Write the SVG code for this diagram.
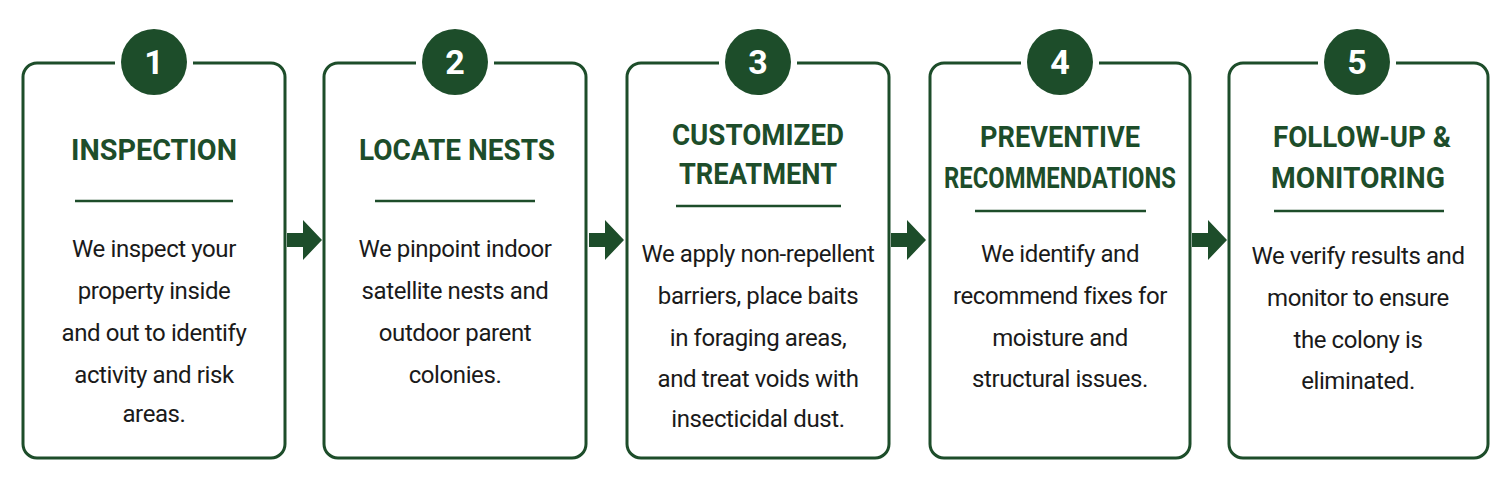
<svg xmlns="http://www.w3.org/2000/svg" width="1512" height="483" viewBox="0 0 1512 483">
<style>
.box{fill:#fff;stroke:#1d4d2a;stroke-width:3}
.num{fill:#1d4d2a}
.nt{font-family:Roboto,"Liberation Sans",sans-serif;font-weight:bold;font-size:34px;fill:#fff;text-anchor:middle}
.tt{font-family:Roboto,"Liberation Sans",sans-serif;font-weight:bold;font-size:29px;fill:#1d4d2a;text-anchor:middle}
.bd{font-family:Roboto,"Liberation Sans",sans-serif;font-size:24px;fill:#1a1a1a;text-anchor:middle;letter-spacing:-0.4px}
.ul{stroke:#1d4d2a;stroke-width:2.5}
.ar{fill:#1d4d2a}
</style>
<rect width="1512" height="483" fill="#fff"/>
<g id="connectors">
<path class="ar" d="M287,233h16v-13l19,20-19,20v-13h-16z"/>
<path class="ar" d="M589,233h16v-13l19,20-19,20v-13h-16z"/>
<path class="ar" d="M891,233h16v-13l19,20-19,20v-13h-16z"/>
<path class="ar" d="M1192,233h16v-13l19,20-19,20v-13h-16z"/>
</g>
<g id="n1">
<rect class="box" x="23" y="63" width="262" height="395" rx="14"/>
<rect x="115" y="55" width="78" height="16" fill="#fff"/>
<circle class="num" cx="154" cy="62" r="33"/><text class="nt" x="154" y="74">1</text>
<text class="tt" x="154" y="160" textLength="166" lengthAdjust="spacingAndGlyphs">INSPECTION</text>
<line class="ul" x1="75" y1="201" x2="233" y2="201"/>
<text class="bd"><tspan x="154" y="257">We inspect your</tspan><tspan x="154" y="299">property inside</tspan><tspan x="154" y="341">and out to identify</tspan><tspan x="154" y="383">activity and risk</tspan><tspan x="154" y="422">areas.</tspan></text>
</g>
<g id="n2">
<rect class="box" x="324" y="63" width="262" height="395" rx="14"/>
<rect x="416" y="55" width="78" height="16" fill="#fff"/>
<circle class="num" cx="455" cy="62" r="33"/><text class="nt" x="455" y="74">2</text>
<text class="tt" x="457" y="160" textLength="196" lengthAdjust="spacingAndGlyphs">LOCATE NESTS</text>
<line class="ul" x1="375" y1="201" x2="535" y2="201"/>
<text class="bd"><tspan x="455" y="257">We pinpoint indoor</tspan><tspan x="455" y="299">satellite nests and</tspan><tspan x="455" y="341">outdoor parent</tspan><tspan x="455" y="383">colonies.</tspan></text>
</g>
<g id="n3">
<rect class="box" x="627" y="63" width="262" height="395" rx="14"/>
<rect x="719" y="55" width="78" height="16" fill="#fff"/>
<circle class="num" cx="758" cy="62" r="33"/><text class="nt" x="758" y="74">3</text>
<text class="tt"><tspan x="758" y="145" textLength="172" lengthAdjust="spacingAndGlyphs">CUSTOMIZED</tspan><tspan x="758" y="184" textLength="158" lengthAdjust="spacingAndGlyphs">TREATMENT</tspan></text>
<line class="ul" x1="676" y1="206" x2="841" y2="206"/>
<text class="bd"><tspan x="758" y="262">We apply non-repellent</tspan><tspan x="758" y="304">barriers, place baits</tspan><tspan x="758" y="346">in foraging areas,</tspan><tspan x="758" y="387">and treat voids with</tspan><tspan x="758" y="427">insecticidal dust.</tspan></text>
</g>
<g id="n4">
<rect class="box" x="930" y="63" width="260" height="395" rx="14"/>
<rect x="1021" y="55" width="78" height="16" fill="#fff"/>
<circle class="num" cx="1060" cy="62" r="33"/><text class="nt" x="1060" y="74">4</text>
<text class="tt"><tspan x="1060" y="147" textLength="160" lengthAdjust="spacingAndGlyphs">PREVENTIVE</tspan><tspan x="1060" y="188" textLength="232" lengthAdjust="spacingAndGlyphs">RECOMMENDATIONS</tspan></text>
<line class="ul" x1="975" y1="211" x2="1146" y2="211"/>
<text class="bd"><tspan x="1060" y="262">We identify and</tspan><tspan x="1060" y="304">recommend fixes for</tspan><tspan x="1060" y="346">moisture and</tspan><tspan x="1060" y="387">structural issues.</tspan></text>
</g>
<g id="n5">
<rect class="box" x="1229" y="63" width="259" height="395" rx="14"/>
<rect x="1318" y="55" width="78" height="16" fill="#fff"/>
<circle class="num" cx="1357" cy="62" r="33"/><text class="nt" x="1357" y="74">5</text>
<text class="tt"><tspan x="1362" y="147" textLength="178" lengthAdjust="spacingAndGlyphs">FOLLOW-UP &amp;</tspan><tspan x="1358" y="188" textLength="174" lengthAdjust="spacingAndGlyphs">MONITORING</tspan></text>
<line class="ul" x1="1274" y1="211" x2="1444" y2="211"/>
<text class="bd"><tspan x="1358" y="264">We verify results and</tspan><tspan x="1358" y="306">monitor to ensure</tspan><tspan x="1358" y="348">the colony is</tspan><tspan x="1358" y="389">eliminated.</tspan></text>
</g>
</svg>
